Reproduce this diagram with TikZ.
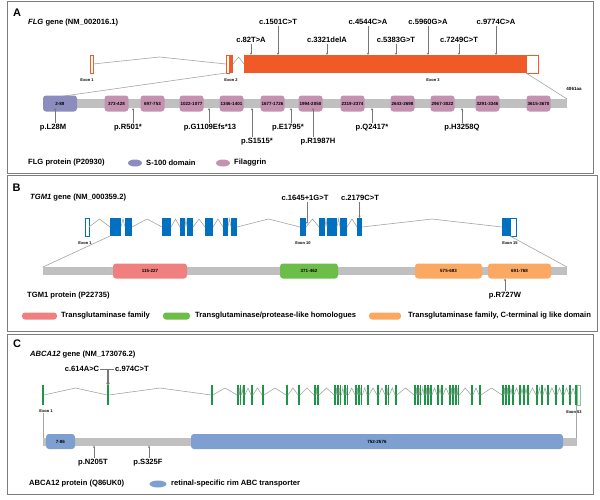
\documentclass[tikz,border=0pt]{standalone}
\usepackage{fontspec}
\setmainfont{Liberation Sans}
\usetikzlibrary{arrows.meta,calc,shapes.geometric}
\definecolor{flgor}{RGB}{240,90,38}
\definecolor{s100}{RGB}{140,141,190}
\definecolor{filag}{RGB}{196,146,176}
\definecolor{tgmblue}{RGB}{0,112,192}
\definecolor{tgred}{RGB}{240,128,128}
\definecolor{tggreen}{RGB}{108,190,72}
\definecolor{tgorange}{RGB}{250,168,98}
\definecolor{abcgreen}{RGB}{28,150,70}
\definecolor{abcblue}{RGB}{125,160,208}
\definecolor{barg}{RGB}{192,192,192}
\definecolor{lineg}{RGB}{165,165,165}
\definecolor{arrg}{RGB}{120,120,120}
\definecolor{frameg}{RGB}{125,125,125}
\begin{document}
\begin{tikzpicture}[x=1pt,y=-1pt,
  panel/.style={draw=frameg,line width=1pt},
  plabel/.style={font=\bfseries\fontsize{11}{12}\selectfont,inner sep=0},
  title/.style={font=\bfseries\fontsize{7.6}{9}\selectfont,anchor=west,inner sep=0},
  mut/.style={font=\bfseries\fontsize{7.6}{9}\selectfont,inner sep=1pt},
  exlab/.style={font=\bfseries\fontsize{4}{5}\selectfont,inner sep=0},
  exo/.style={inner sep=0,outer sep=0,minimum height=18pt},
  cex/.style={inner sep=0,outer sep=0,minimum height=20pt,minimum width=1.8pt,fill=abcgreen},
  intr/.style={draw=lineg,line width=0.6pt},
  proj/.style={draw=lineg,line width=0.6pt},
  arr/.style={draw=arrg,line width=0.5pt,-{Stealth[length=2.4pt,width=2.2pt]}},
  bar/.style={fill=barg,inner sep=0,outer sep=0},
  dom/.style={rounded corners=3pt,inner sep=0,outer sep=0,font=\bfseries\fontsize{4.5}{5}\selectfont},
  keyb/.style={rounded corners=3pt,inner sep=0,minimum height=7pt},
  keye/.style={ellipse,inner sep=0,minimum height=7pt,minimum width=14pt}
]
\path[use as bounding box] (0,0) rectangle (600,499);
\fill[white] (0,0) rectangle (600,499);

% ---------- panel frames
\draw[panel] (7,1) rectangle (593,173);
\draw[panel] (7,175) rectangle (597,331);
\draw[panel] (7,334) rectangle (593,494);

% ================= PANEL A =================
\node[plabel] (LA) at (17,12.5) {A};
\node[title] (tA) at (28,22.5) {\textit{FLG} gene (NM\_002016.1)};

\node[exo,draw=flgor,line width=.6pt,fill=white,minimum width=3pt] (a1) at (91.5,64) {};
\node[exo,draw=flgor,line width=.6pt,fill=white,minimum width=3.5pt] (a2o) at (227.75,64) {};
\node[exo,fill=flgor,minimum width=3.5pt] (a2f) at (231.25,64) {};
\node[exo,fill=flgor,minimum width=282pt] (a3f) at (385,64) {};
\node[exo,draw=flgor,line width=.6pt,fill=white,minimum width=12pt] (a3o) at (532,64) {};

\draw[intr] (a1.east) -- ($(a1.east)!.5!(a2o.west)+(0,-7)$) -- (a2o.west);
\draw[intr] (a2f.east) -- ($(a2f.east)!.5!(a3f.west)+(0,-7)$) -- (a3f.west);

\node[exlab] (ea1) at (87,80) {Exon 1};
\node[exlab] (ea2) at (231,80) {Exon 2};
\node[exlab] (ea3) at (433,80) {Exon 3};

\foreach \nm/\x/\y/\t in {m1/251/40/c.82T>A, m2/278/22/c.1501C>T, m3/327/40/c.3321delA,
  m4/368/22/c.4544C>A, m5/396/40/c.5383G>T, m6/428/22/c.5960G>A, m7/459/40/c.7249C>T, m8/496/22/c.9774C>A}{
  \node[mut] (\nm) at (\x,\y) {\t};
  \draw[arr] (\nm.south) -- (\nm.south |- a3f.north);
}

\node[bar,minimum width=524pt,minimum height=9pt] (barA) at (305,103.5) {};
\draw[proj] (a2o.south west) -- (barA.north west);
\draw[proj] (a3o.south west) -- (barA.north east);
\node[exlab,font=\bfseries\fontsize{4.5}{5}\selectfont] (aa) at (574,89) {4061aa};

\node[dom,fill=s100,minimum width=34pt,minimum height=16pt] (sA) at (60,103.5) {2-88};
\foreach \i/\c/\t in {1/116.5/373-428, 2/152.5/697-753, 3/191.5/1022-1077, 4/231.5/1346-1401,
  5/272.5/1677-1726, 6/310.5/1994-2050, 7/352.5/2319-2374, 8/402.5/2643-2698,
  9/442.5/2967-3022, 10/487.5/3291-3346, 11/538.5/3615-3670}{
  \node[dom,fill=filag,minimum width=24pt,minimum height=16pt] (fA\i) at (\c,103.5) {\t};
}

\foreach \nm/\ax/\lx/\ly/\t in {pa1/55/53/128/p.L28M, pa2/133/128/128/p.R501*,
  pa3/209/210/128/p.G1109Efs*13, pa4/252/257/142/p.S1515*, pa5/291/288/128/p.E1795*,
  pa6/313/318/142/p.R1987H, pa7/372/372/128/p.Q2417*, pa8/462/462/128/p.H3258Q}{
  \node[mut] (\nm) at (\lx,\ly) {\t};
  \coordinate (\nm-x) at (\ax,0);
  \draw[arr] (\nm-x |- \nm.north) -- (\nm-x |- barA.south);
}

\node[title] (lgA) at (28,163) {FLG protein (P20930)};
\node[keye,fill=s100] (kA1) at (135,163) {};
\node[title] (kA1t) at (146,163) {S-100 domain};
\node[keye,fill=filag] (kA2) at (223,163) {};
\node[title] (kA2t) at (234,163) {Filaggrin};

% ================= PANEL B =================
\node[plabel] (LB) at (16.5,187.5) {B};
\node[title] (tB) at (30,197.7) {\textit{TGM1} gene (NM\_000359.2)};

\node[exo,draw=tgmblue,line width=.6pt,fill=white,minimum width=4pt] (b1) at (87,227) {};
\foreach \i/\c/\w in {2/115.5/11, 3/128.5/7, 4/166.5/9, 5/182.5/5, 6/190/6, 7/209/8,
  8/225.5/5, 9/234/6, 10/303/6, 11/322/6, 12/332/10, 13/343.5/7, 14/359.5/5, 15/506/8}{
  \node[exo,fill=tgmblue,minimum width=\w pt] (b\i) at (\c,227) {};
}
\node[exo,draw=tgmblue,line width=.6pt,fill=white,minimum width=6pt] (b15o) at (513,227) {};
\foreach \i in {1,...,14}{
  \pgfmathtruncatemacro\j{\i+1}
  \draw[intr] (b\i.east) -- ($(b\i.east)!.5!(b\j.west)+(0,-8)$) -- (b\j.west);
}
\node[exlab] (eb1) at (85,243) {Exon 1};
\node[exlab] (eb10) at (303,243) {Exon 10};
\node[exlab] (eb15) at (510,243) {Exon 15};

\node[mut] (mb1) at (305,197.7) {c.1645+1G>T};
\draw[arr] ([xshift=1pt]b10.east |- mb1.south) -- ([xshift=1pt,yshift=3pt]b10.east);
\node[mut] (mb2) at (360,197.7) {c.2179C>T};
\draw[arr] (b14.north |- mb2.south) -- (b14.north);

\node[bar,minimum width=524pt,minimum height=8pt] (barB) at (305,271) {};
\draw[proj] (b2.south west) -- (barB.north west);
\draw[proj] (b15.south east) -- (barB.north east);
\node[dom,fill=tgred,minimum width=74pt,minimum height=15pt] (tg1) at (150,271) {115-227};
\node[dom,fill=tggreen,minimum width=58pt,minimum height=15pt] (tg2) at (309,271) {371-462};
\node[dom,fill=tgorange,minimum width=67pt,minimum height=15pt] (tg3) at (448.5,271) {575-683};
\node[dom,fill=tgorange,minimum width=63pt,minimum height=15pt] (tg4) at (519.5,271) {691-768};

\node[mut] (pb1) at (505,296) {p.R727W};
\draw[arr] (pb1.north) -- (pb1.north |- tg4.south);

\node[title] (tpB) at (27,296) {TGM1 protein (P22735)};
\node[keyb,fill=tgred,minimum width=35pt] (kB1) at (39.5,316) {};
\node[title] (kB1t) at (61,316) {Transglutaminase family};
\node[keyb,fill=tggreen,minimum width=27pt] (kB2) at (176.5,316) {};
\node[title] (kB2t) at (195,316) {Transglutaminase/protease-like homologues};
\node[keyb,fill=tgorange,minimum width=32pt] (kB3) at (385,316) {};
\node[title] (kB3t) at (408,316) {Transglutaminase family, C-terminal ig like domain};

% ================= PANEL C =================
\node[plabel] (LC) at (17,343.5) {C};
\node[title] (tC) at (30,355) {\textit{ABCA12} gene (NM\_173076.2)};

\foreach \x [count=\i] in {43,108,212,238,240.5,244,252,263,287,299,315,318,335,338,340.5,345,347.5,
  356,359,361.5,368,378,386,388.5,396,415,418,420.5,425,428,431,438,442,450,453,456,458.5,
  472,480,503,506,509,513,520,524,528,537,542,548,556,563,570,576}{
  \node[cex] (c\i) at (\x,395) {};
}
\node[exo,draw=abcgreen!55,line width=.5pt,fill=white,minimum height=20pt,minimum width=3.5pt] (c53o) at (578.7,395) {};
\foreach \i in {1,...,52}{
  \pgfmathtruncatemacro\j{\i+1}
  \draw[intr] (c\i.east) -- ($(c\i.east)!.5!(c\j.west)+(0,-7)$) -- (c\j.west);
}
\node[exlab] (ec1) at (46,411) {Exon 1};
\node[exlab] (ec53) at (574,412) {Exon 53};

\node[mut] (mc1) at (82,369) {c.614A>C};
\node[mut] (mc2) at (132,369) {c.974C>T};
\draw[arr] (mc1.east) -| ([xshift=-.7pt]c2.north);
\draw[arr] (mc2.west) -| ([xshift=.7pt]c2.north);

\node[bar,minimum width=534pt,minimum height=8pt] (barC) at (310,441.5) {};
\draw[proj] (c1 |- ec1.south) -- (c1 |- barC.north);
\draw[proj] (c53.south) -- (c53.south |- barC.north);
\node[dom,fill=abcblue,minimum width=29pt,minimum height=15pt] (cd1) at (60.5,441.5) {7-86};
\node[dom,fill=abcblue,minimum width=372pt,minimum height=15pt,text width=372pt,align=center] (cd2) at (377,441.5) {752-2576\hspace*{20pt}};

\foreach \nm/\ax/\lx/\t in {pc1/94/93/p.N205T, pc2/149/148/p.S325F}{
  \node[mut] (\nm) at (\lx,463) {\t};
  \coordinate (\nm-x) at (\ax,0);
  \draw[arr] (\nm-x |- \nm.north) -- (\nm-x |- barC.south);
}

\node[title] (tpC) at (29,484) {ABCA12 protein (Q86UK0)};
\node[keye,fill=abcblue,minimum width=17pt] (kC1) at (158,484) {};
\node[title] (kC1t) at (171,484) {retinal-specific rim ABC transporter};
\end{tikzpicture}
\end{document}
